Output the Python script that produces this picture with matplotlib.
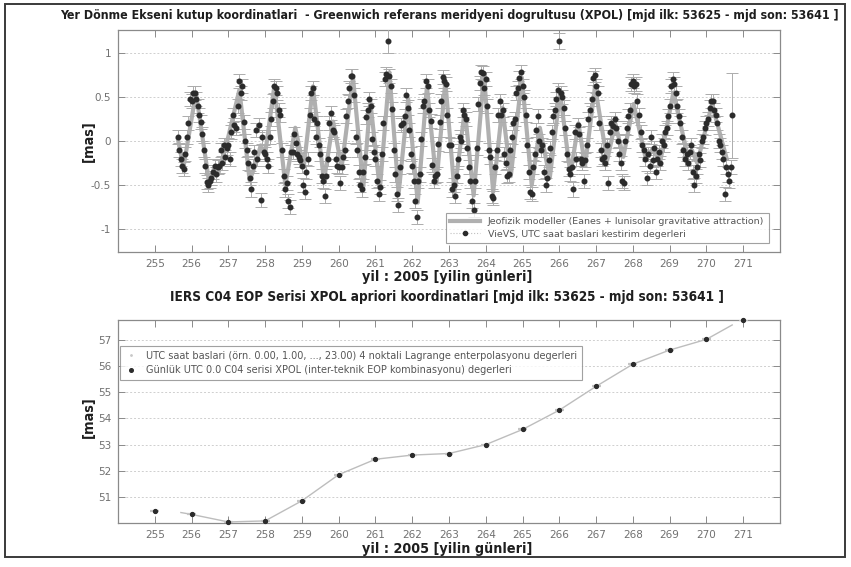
import numpy as np
import matplotlib.pyplot as plt
from matplotlib import font_manager as fm
from matplotlib.lines import Line2D
from matplotlib.patches import Rectangle

# --- ust grafik: jeofizik model (tepe / cukur noktalari, gun) ---
model_day = [255.63, 255.78, 256.12, 256.48, 256.62, 256.72, 256.90, 257.00, 257.30, 257.58,
             257.75, 257.88, 258.00, 258.25, 258.55, 258.82, 259.05, 259.30, 259.60, 259.85,
             260.08, 260.39, 260.67, 260.86, 261.12, 261.38, 261.63, 261.89, 262.15, 262.40,
             262.66, 262.90, 263.15, 263.43, 263.67, 263.95, 264.20, 264.45, 264.68, 264.98,
             265.25, 265.47, 265.74, 266.02, 266.30, 266.52, 266.70, 266.97, 267.30, 267.52,
             267.74, 268.02, 268.35, 268.55, 268.75, 269.10, 269.48, 269.60, 269.75, 270.15,
             270.55]
model_val = [0.02, -0.30, 0.55, -0.48, -0.30, -0.38, -0.10, 0.05, 0.58, -0.45,
             -0.25, -0.05, -0.15, 0.62, -0.50, 0.15, -0.30, 0.62, -0.45, 0.22,
             -0.30, 0.72, -0.52, 0.45, -0.55, 0.78, -0.60, 0.48, -0.70, 0.62,
             -0.48, 0.68, -0.58, 0.35, -0.62, 0.75, -0.58, 0.38, -0.40, 0.72,
             -0.50, 0.15, -0.42, 0.55, -0.38, 0.20, -0.28, 0.62, -0.22, 0.20,
             -0.18, 0.42, -0.20, -0.08, -0.22, 0.55, -0.15, -0.10, -0.25, 0.42,
             -0.20]

# --- VieVS saatlik kestirimler (her gun icin saat 0..23) ---
est_first_hour = 15  # gun 255 saat 15'ten basliyor
est = {
    255: [0.05, -0.10, -0.20, -0.28, -0.32, -0.15, 0.05, 0.20, 0.48],
    256: [0.45, 0.55, 0.54, 0.48, 0.40, 0.30, 0.22, 0.08, -0.10, -0.28, -0.47, -0.50,
          -0.45, -0.42, -0.35, -0.28, -0.38, -0.30, -0.28, -0.10, -0.25, -0.05, -0.18, -0.08],
    257: [-0.05, -0.20, 0.10, 0.30, 0.18, 0.15, 0.40, 0.68, 0.55, 0.62, 0.22, 0.00,
          -0.10, -0.25, -0.42, -0.55, -0.28, -0.12, 0.12, -0.20, 0.18, -0.67, 0.05, -0.12],
    258: [-0.15, -0.20, -0.28, 0.05, 0.25, 0.45, 0.62, 0.60, 0.55, 0.35, 0.30, -0.10,
          -0.40, -0.55, -0.48, -0.68, -0.75, -0.12, -0.12, 0.08, -0.02, -0.15, -0.18, -0.22],
    259: [-0.28, -0.50, -0.58, -0.35, -0.20, 0.30, 0.55, 0.60, 0.25, 0.05, 0.20, -0.05,
          -0.15, -0.40, -0.45, -0.62, -0.40, -0.20, 0.20, 0.32, 0.12, 0.10, -0.20, -0.28],
    260: [-0.30, -0.48, -0.30, -0.18, -0.10, 0.28, 0.45, 0.60, 0.74, 0.74, 0.52, 0.05,
          -0.10, -0.35, -0.50, -0.55, -0.35, -0.18, 0.27, 0.35, 0.48, 0.40, 0.02, -0.12],
    261: [-0.20, -0.45, -0.60, -0.52, -0.15, 0.20, 0.70, 0.76, 1.14, 0.74, 0.62, 0.36,
          -0.10, -0.38, -0.60, -0.73, -0.30, 0.18, 0.20, 0.28, 0.52, 0.38, 0.12, -0.15],
    262: [-0.28, -0.45, -0.68, -0.86, -0.45, -0.38, 0.02, 0.40, 0.45, 0.68, 0.62, 0.35,
          0.23, -0.27, -0.45, -0.40, -0.38, -0.03, 0.22, 0.45, 0.73, 0.68, 0.65, 0.30],
    263: [-0.04, -0.05, -0.55, -0.50, -0.62, -0.40, -0.20, 0.05, 0.00, 0.35, 0.30, 0.25,
          -0.08, -0.30, -0.45, -0.68, -0.78, -0.45, -0.08, 0.42, 0.66, 0.78, 0.77, 0.60],
    264: [0.70, 0.40, -0.10, -0.18, -0.62, -0.65, -0.30, -0.10, 0.30, 0.45, 0.30, 0.35,
          -0.15, -0.25, -0.40, -0.38, -0.10, 0.05, 0.20, 0.25, 0.55, 0.60, 0.72, 0.78],
    265: [0.62, 0.50, 0.30, -0.05, -0.35, -0.58, -0.60, -0.30, -0.15, 0.12, 0.28, 0.00,
          -0.10, -0.05, -0.35, -0.50, -0.42, -0.22, -0.08, 0.10, 0.28, 0.35, 0.48, 0.58],
    266: [1.14, 0.55, 0.50, 0.38, 0.15, -0.15, -0.32, -0.37, -0.30, -0.55, 0.10, -0.20,
          0.18, 0.08, -0.20, -0.25, -0.45, -0.22, -0.05, 0.25, 0.35, 0.48, 0.72, 0.75],
    267: [0.62, 0.55, 0.20, -0.10, -0.20, -0.18, -0.25, -0.05, -0.48, 0.10, 0.20, 0.17,
          0.25, 0.15, 0.00, -0.15, -0.25, -0.45, -0.48, 0.00, 0.15, 0.28, 0.35, 0.65],
    268: [0.68, 0.62, 0.65, 0.45, 0.30, 0.10, -0.05, -0.10, -0.20, -0.42, -0.15, -0.28,
          0.05, -0.22, -0.08, -0.35, -0.20, -0.12, -0.25, 0.00, -0.05, 0.10, 0.15, 0.28],
    269: [0.40, 0.62, 0.70, 0.65, 0.55, 0.40, 0.28, 0.20, 0.05, -0.10, -0.20, -0.15,
          -0.25, -0.12, -0.05, -0.35, -0.50, -0.40, -0.30, -0.15, -0.22, 0.00, 0.05, 0.15],
    270: [0.20, 0.25, 0.38, 0.45, 0.45, 0.35, 0.30, 0.20, 0.00, -0.05, -0.12, -0.20,
          -0.60, -0.30, -0.38, -0.45, -0.30, 0.29],
}
est_sigma = 0.08
est_sigma_special = {(261, 8): 0.14, (266, 0): 0.09, (270, 17): 0.48}

# --- alt grafik: IERS C04 gunluk XPOL degerleri [mas] ---
c04_day = [255, 256, 257, 258, 259, 260, 261, 262, 263, 264, 265, 266, 267, 268, 269, 270, 271]
c04_val = [50.46, 50.33, 50.04, 50.08, 50.85, 51.85, 52.44, 52.60, 52.66, 53.00,
           53.58, 54.32, 55.23, 56.08, 56.62, 57.03, 57.77]
# Lagrange saatlik serinin baslangic / bitis noktalari
lagr_start = (255.71, 50.40)
lagr_end = (270.70, 57.58)

top_title = ("Yer Dönme Ekseni kutup koordinatlari  - Greenwich referans meridyeni "
             "dogrultusu (XPOL) [mjd ilk: 53625 - mjd son: 53641 ]")
bottom_title = "IERS C04 EOP Serisi XPOL apriori koordinatlari [mjd ilk: 53625 - mjd son: 53641 ]"
xlabel_text = "yil : 2005 [yilin günleri]"
xticks = list(range(255, 272))

# build hourly estimate arrays
est_t, est_v, est_s = [], [], []
for day, vals in est.items():
    h0 = est_first_hour if day == 255 else 0
    for i, v in enumerate(vals):
        est_t.append(day + (h0 + i) / 24.0)
        est_v.append(v)
        est_s.append(est_sigma_special.get((day, i), est_sigma))


# dar (condensed) kalin yazi tipi ara, yoksa DejaVu Sans Bold
def pick_narrow_font():
    cands = []
    for f in fm.fontManager.ttflist:
        key = (f.name + ' ' + f.fname).lower()
        if 'narrow' in key or 'condensed' in key:
            bold = f.weight in ('bold', 700, 'heavy') or 'bold' in f.fname.lower()
            italic = f.style != 'normal' or 'italic' in f.fname.lower() or 'oblique' in f.fname.lower()
            if not italic:
                cands.append((0 if bold else 1, f.fname))
    if cands:
        cands.sort()
        return fm.FontProperties(fname=cands[0][1])
    return fm.FontProperties(family='DejaVu Sans', weight='bold')


title_fp = pick_narrow_font()

fig = plt.figure(figsize=(8.51, 5.67), dpi=100)
ax1 = fig.add_axes([118 / 851, 1 - 252 / 567, 662 / 851, 222 / 567])
ax2 = fig.add_axes([118 / 851, 1 - 523 / 567, 662 / 851, 203 / 567])


def style_axes(ax):
    for s in ax.spines.values():
        s.set_color('#8a8a8a')
        s.set_linewidth(0.9)
    ax.tick_params(direction='in', top=True, right=True, length=5, width=0.7,
                   colors='#8a8a8a', labelcolor='#707070', labelsize=7.5, pad=5)
    ax.set_xticks(xticks)
    ax.set_xlim(254, 272)
    ax.grid(axis='y', linestyle=(0, (2, 2)), color='#cfcfcf', linewidth=0.7)
    ax.set_axisbelow(True)


style_axes(ax1)
ax1.plot(model_day, model_val, color='#b0b0b0', lw=3, zorder=2, solid_joinstyle='round')
ax1.errorbar(est_t, est_v, yerr=est_s, fmt='none', ecolor='#acacac', elinewidth=0.7,
             capsize=4, capthick=0.7, zorder=3)
ax1.plot(est_t, est_v, 'o', ms=3.3, color='#2b2b2b', zorder=4)
ax1.set_ylim(-1.26, 1.26)
ax1.set_yticks([-1, -0.5, 0, 0.5, 1])
ax1.set_yticklabels(['-1', '-0.5', '0', '0.5', '1'])

h_model = Line2D([], [], color='#b0b0b0', lw=3)
h_est = Line2D([], [], color='#c0c0c0', lw=0.8, ls=':', marker='o', ms=3,
               mfc='#2b2b2b', mec='#2b2b2b')
leg1 = ax1.legend([h_model, h_est],
                  ['Jeofizik modeller (Eanes + lunisolar gravitative attraction)',
                   'VieVS, UTC saat baslari kestirim degerleri'],
                  loc='lower right', bbox_to_anchor=(0.99, 0.02), fontsize=6.8,
                  frameon=True, fancybox=False, edgecolor='#8a8a8a', labelcolor='#555555',
                  handlelength=3.2, borderpad=0.45, labelspacing=0.4)
leg1.get_frame().set_linewidth(0.8)

style_axes(ax2)
ax2.plot([lagr_start[0]] + c04_day[1:-1] + [lagr_end[0]],
         [lagr_start[1]] + c04_val[1:-1] + [lagr_end[1]],
         color='#bdbdbd', lw=1.0, zorder=2)
ax2.errorbar(c04_day, c04_val, xerr=0.12, fmt='none', ecolor='#c4c4c4', elinewidth=1.6,
             capsize=0, zorder=3)
ax2.plot(c04_day, c04_val, 'o', ms=2.8, color='#2b2b2b', zorder=4, clip_on=False)
ax2.set_ylim(50.0, 57.77)
ax2.set_yticks([51, 52, 53, 54, 55, 56, 57])

h_lagr = Line2D([], [], color='#c8c8c8', lw=0, marker='.', ms=2)
h_c04 = Line2D([], [], color='#2b2b2b', lw=0, marker='o', ms=2.6)
leg2 = ax2.legend([h_lagr, h_c04],
                  ['UTC saat baslari (örn. 0.00, 1.00, ..., 23.00) 4 noktali Lagrange enterpolasyonu degerleri',
                   'Günlük UTC 0.0 C04 serisi XPOL (inter-teknik EOP kombinasyonu) degerleri'],
                  loc='upper left', bbox_to_anchor=(-0.005, 0.895), fontsize=7.0,
                  frameon=True, fancybox=False, edgecolor='#8a8a8a', labelcolor='#555555',
                  handlelength=1.5, borderpad=0.45, labelspacing=0.5)
leg2.get_frame().set_linewidth(0.8)

# basliklar ve eksen etiketleri; genislik referanstaki piksel genisligine uyduruluyor
labels = [
    (top_title, 449, 15, 0, 790, 14),
    (bottom_title, 447, 297, 0, 560, 14),
    (xlabel_text, 447, 277, 0, 170, 15),
    (xlabel_text, 447, 549, 0, 170, 15),
    ('[mas]', 89, 141, 90, 42, 13),
    ('[mas]', 89, 417, 90, 42, 13),
]
texts = []
for s, x, y, rot, span, fs in labels:
    t = fig.text(x / 851, 1 - y / 567, s, ha='center', va='center', rotation=rot,
                 fontproperties=title_fp, color='#1e1e1e')
    t.set_fontsize(fs)
    texts.append((t, rot, span))

fig.canvas.draw()
rend = fig.canvas.get_renderer()
for t, rot, span in texts:
    bb = t.get_window_extent(rend)
    cur = bb.height if rot else bb.width
    t.set_fontsize(t.get_fontsize() * span / cur)

# sayfa cercevesi
fig.patches.append(Rectangle((5 / 851, 1 - 557 / 567), 840 / 851, 553 / 567,
                             transform=fig.transFigure, fill=False,
                             edgecolor='#3a3a3a', lw=1.4))

fig.savefig('out.png', dpi=100)
